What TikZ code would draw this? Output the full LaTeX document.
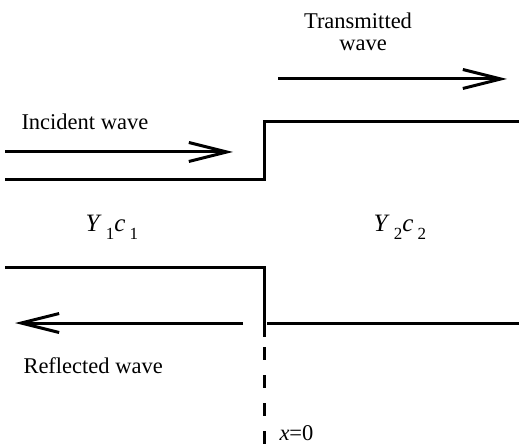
\documentclass[tikz,border=0pt]{standalone}
\usepackage{fontspec}
\setmainfont{Liberation Serif}
\usetikzlibrary{arrows.meta}

\newcommand{\subdig}[1]{\raisebox{-8bp}{\fontsize{17bp}{17bp}\selectfont #1}}

\begin{document}
\begin{tikzpicture}[x=1bp,y=-1bp,line width=3bp,
  wave/.style={-{Straight Barb[length=38bp,width=19bp]}},
  lbl/.style={font=\fontsize{22.5bp}{22bp}\selectfont,inner sep=0pt},
  imp/.style={font=\fontsize{25bp}{25bp}\selectfont,inner sep=0pt}]
\useasboundingbox (0,0) rectangle (519,446);

% upper boundary
\coordinate (ul) at (5,180);
\coordinate (uc) at (264,180);
\coordinate (ut) at (264,122);
\coordinate (ur) at (519,122);
\draw (ul) -- (uc) -- (ut) -- (ur);

% lower boundary
\coordinate (ll) at (5,267);
\coordinate (lc) at (264,267);
\coordinate (lb) at (264,337);
\coordinate (ls) at (243,323);
\coordinate (lm) at (267,323);
\coordinate (lr) at (519,323);
\coordinate (xe) at (264,446);
\draw (ll) -- (lc) -- (lb);
\draw (lm) -- (lr);
\draw[dash pattern=on 13bp off 15bp,dash phase=-10bp] (lb) -- (xe);

% arrows
\coordinate (ia) at (5,152);
\coordinate (ib) at (233,152);
\coordinate (ta) at (278,79);
\coordinate (tb) at (507,79);
\coordinate (ra) at (15,323);
\draw[wave] (ia) -- (ib);
\draw[wave] (ta) -- (tb);
\draw[wave] (ls) -- (ra);

% labels
\node[lbl,anchor=base west] (inc) at (20,130) {Incident wave};
\node[lbl,align=center,anchor=base] (tra) at (358,51) {Transmitted\\\hspace*{10bp}wave};
\node[lbl,anchor=base west] (ref) at (22,373) {Reflected wave};
\node[imp,anchor=base west] (m1) at (84,232) {\textit{Y}\,\subdig{1}\textit{c}\,\subdig{1}};
\node[imp,anchor=base west] (m2) at (372,232) {\textit{Y}\,\subdig{2}\textit{c}\,\subdig{2}};
\node[lbl,anchor=base west] (x0) at (278,440) {\textit{x}=0};
\end{tikzpicture}
\end{document}
